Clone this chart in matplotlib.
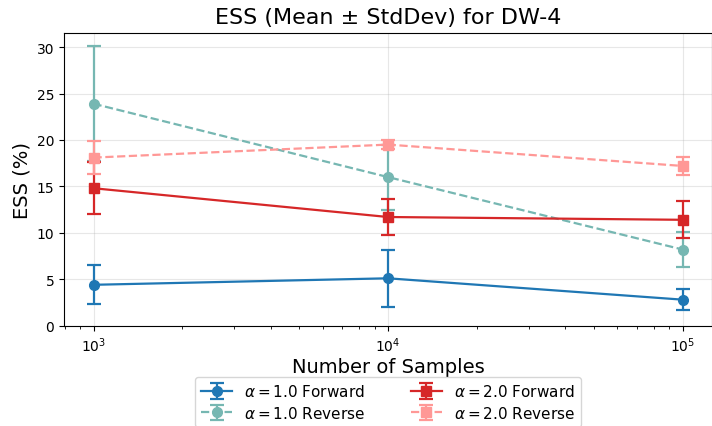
import numpy as np
import matplotlib.pyplot as plt

# --- Data ---
samples = [1e3, 1e4, 1e5]

a1_fwd_mean = [4.4, 5.1, 2.8]
a1_fwd_std = [2.1, 3.1, 1.1]
a1_rev_mean = [23.9, 16.0, 8.2]
a1_rev_std = [6.2, 3.5, 1.9]
a2_fwd_mean = [14.8, 11.7, 11.4]
a2_fwd_std = [2.8, 1.95, 2.0]
a2_rev_mean = [18.1, 19.5, 17.2]
a2_rev_std = [1.8, 0.5, 0.95]

series = [
    (a1_fwd_mean, a1_fwd_std, r"$\alpha = 1.0$ Forward", "#1f77b4", "o", "-"),
    (a1_rev_mean, a1_rev_std, r"$\alpha = 1.0$ Reverse", "#76b7b2", "o", "--"),
    (a2_fwd_mean, a2_fwd_std, r"$\alpha = 2.0$ Forward", "#d62728", "s", "-"),
    (a2_rev_mean, a2_rev_std, r"$\alpha = 2.0$ Reverse", "#ff9896", "s", "--"),
]

fig, ax = plt.subplots(figsize=(7.12, 4.27), dpi=100)

for mean, std, label, color, marker, ls in series:
    ax.errorbar(samples, mean, yerr=std, label=label, color=color,
                marker=marker, linestyle=ls, linewidth=1.6, markersize=7,
                capsize=5, elinewidth=1.6, capthick=1.6)

ax.set_xscale("log")
ax.set_ylim(0, 31.5)
ax.set_xlabel("Number of Samples", fontsize=14, labelpad=2)
ax.set_ylabel("ESS (%)", fontsize=14)
ax.set_title("ESS (Mean ± StdDev) for DW-4", fontsize=16, pad=7)
ax.grid(True, alpha=0.3)

ax.legend(loc="upper center", bbox_to_anchor=(0.5, -0.166), ncol=2, fontsize=11,
          columnspacing=3.0, labelspacing=0.35, borderaxespad=0.2)

plt.subplots_adjust(left=0.09, right=1.0, top=0.92, bottom=0.235)
plt.savefig("out.png", dpi=100)
